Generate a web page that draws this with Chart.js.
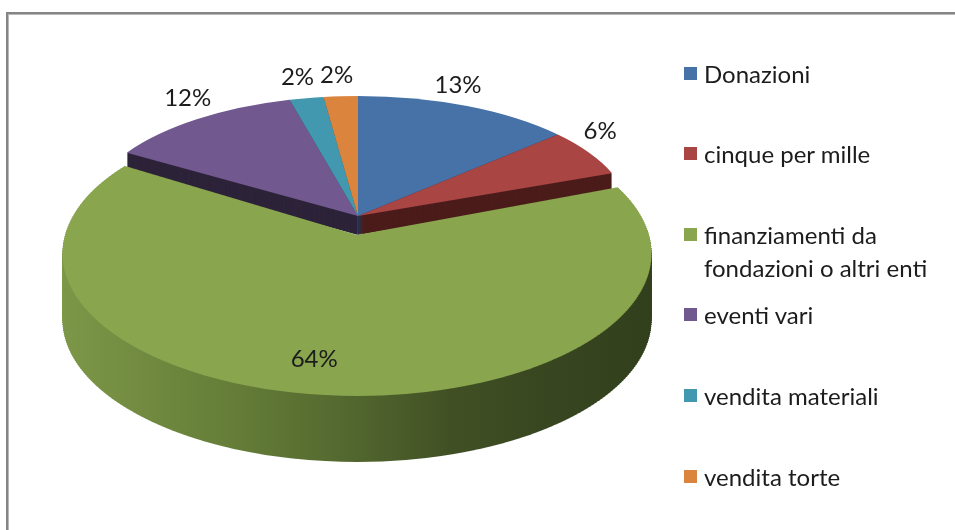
<!DOCTYPE html>
<html>
<head>
<meta charset="utf-8">
<script src="https://cdn.jsdelivr.net/npm/chart.js@4.4.1/dist/chart.umd.min.js"></script>
<style>
  html, body { margin:0; padding:0; background:#fff; overflow:hidden; width:955px; height:530px; }
  #frame { position:absolute; left:6px; top:12px; width:1200px; height:800px; border:2px solid #858585; box-shadow: inset 1px 1px 0 #b8b8b8; }
  #wrap { position:absolute; left:0; top:0; width:955px; height:530px; }
  #legend { position:absolute; left:0; top:0; font-family: Lato, "Open Sans", sans-serif; font-size:24px; color:#1c1c1c; }
  .item { position:absolute; left:704px; width:250px; line-height:33px; }
  .sw { position:absolute; left:684px; width:13px; height:13px; }
</style>
</head>
<body>
<div id="frame"></div>
<div id="wrap"><canvas id="c"></canvas></div>
<div id="legend"></div>
<script>
// ---- data ----
const categories = ['Donazioni', 'cinque per mille', 'finanziamenti da fondazioni o altri enti', 'eventi vari', 'vendita materiali', 'vendita torte'];
const shares = [13, 6, 64, 12, 2, 2];
const topColors = ['#4672a8', '#a94543', '#89a54e', '#71588f', '#4198af', '#db843d'];
const wallColors = ['#23395a', '#4b1c1a', '#556b2f', '#2d2339', '#1e4b57', '#6e421f'];

// ---- 3D look (styling) ----
const FRONT = 2; // slice pulled toward the viewer
const BACK_M = { cx: 358, y0: 216, A: 272, E: 120, g: 0, depth: 19, band: 2 };
const FRONT_M = { cx: 357, y0: 235, A: 292, E: 140, g: 0.13, depth: 66, band: 2 };
const SIDE_X0 = 62, SIDE_X1 = 652;
const sideStops = [[0, '#7d9748'], [0.32, '#627a36'], [0.49, '#52672f'], [0.66, '#415024'], [0.84, '#374520'], [1, '#323f1c']];

function paint(ctx, arc, m, k, fill, pr, yMin) {
  const R = arc.outerRadius, ax = arc.x, ay = arc.y;
  if (!R) return;
  const Y0 = m.y0 + k;
  const saved = arc.options;
  const mk = (a, e) => {
    let bg = fill;
    if (fill === 'grad') {
      const gr = ctx.createLinearGradient((SIDE_X0 - e) / a, 0, (SIDE_X1 - e) / a, 0);
      sideStops.forEach(s => gr.addColorStop(s[0], s[1]));
      bg = gr;
    }
    return Object.assign({}, saved, { backgroundColor: bg, borderWidth: 0 });
  };
  if (m.g === 0) {
    const a = m.A / R, d = m.E / R, e = m.cx - a * ax, f = Y0 - d * ay;
    ctx.save();
    ctx.setTransform(pr * a, 0, 0, pr * d, pr * e, pr * f);
    arc.options = mk(a, e); arc.draw(ctx); arc.options = saved;
    ctx.restore();
    return;
  }
  const vOf = y => { const d0 = Y0 - y; return d0 / (m.E - m.g * d0); };
  const yTop = Y0 - m.E / (1 + m.g), yBot = Y0 + m.E / (1 - m.g);
  let y1 = Math.floor(Math.max(yTop, yMin === undefined ? -1e9 : yMin)) - 1;
  for (; y1 < yBot + 1; y1 += m.band) {
    const y2 = y1 + m.band;
    const v1 = vOf(y1), v2 = vOf(y2), vm = (v1 + v2) / 2, s = (y2 - y1) / (v2 - v1);
    const a = m.A / (R * (1 + m.g * vm)), e = m.cx - a * ax, d = -s / R, f = y1 - v1 * s + s * ay / R;
    ctx.save();
    ctx.setTransform(pr, 0, 0, pr, 0, 0);
    ctx.beginPath(); ctx.rect(0, y1, 2000, m.band); ctx.clip();
    ctx.setTransform(pr * a, 0, 0, pr * d, pr * e, pr * f);
    arc.options = mk(a, e); arc.draw(ctx); arc.options = saved;
    ctx.restore();
  }
}

const pie3d = {
  id: 'pie3d',
  beforeDatasetsDraw(chart) {
    const ctx = chart.ctx, pr = chart.currentDevicePixelRatio || 1;
    const arcs = chart.getDatasetMeta(0).data;
    for (let k = BACK_M.depth; k >= 1; k--) {
      arcs.forEach((arc, i) => { if (i !== FRONT) paint(ctx, arc, BACK_M, k, wallColors[i], pr); });
    }
    arcs.forEach((arc, i) => { if (i !== FRONT) paint(ctx, arc, BACK_M, 0, topColors[i], pr); });
    for (let k = FRONT_M.depth; k >= 1; k--) paint(ctx, arcs[FRONT], FRONT_M, k, 'grad', pr, FRONT_M.y0 - 6);
    paint(ctx, arcs[FRONT], FRONT_M, 0, topColors[FRONT], pr);
    return false;
  },
  afterDraw(chart) {
    const ctx = chart.ctx;
    const arcs = chart.getDatasetMeta(0).data;
    ctx.save();
    ctx.font = '24px Lato, "Open Sans", sans-serif';
    ctx.fillStyle = '#1c1c1c';
    ctx.textAlign = 'center';
    ctx.textBaseline = 'middle';
    const labs = arcs.map((arc, i) => {
      const mid = (arc.startAngle + arc.endAngle) / 2;
      const u = Math.cos(mid), v = -Math.sin(mid);
      const text = shares[i] + '%';
      const w = ctx.measureText(text).width;
      let x, y;
      if (i === FRONT) {
        const r = 0.8, m = FRONT_M;
        x = m.cx + m.A * r * u / (1 + m.g * r * v) - 18;
        y = m.y0 - m.E * r * v / (1 + m.g * r * v);
      } else {
        // outside the rim, pushed clear of the slice when it lies on the side
        x = BACK_M.cx + BACK_M.A * u - 9 + 80 * Math.max(0, u - 0.6);
        y = BACK_M.y0 - BACK_M.E * v - 21;
      }
      return { text, x, y, w, i };
    });
    // simple collision avoidance between neighbouring outside labels
    for (let a = 0; a < labs.length; a++) {
      for (let b = a + 1; b < labs.length; b++) {
        const A = labs[a], B = labs[b];
        if (A.i === FRONT || B.i === FRONT) continue;
        if (Math.abs(A.y - B.y) > 20) continue;
        const need = (A.w + B.w) / 2 + 6;
        const dx = Math.abs(A.x - B.x);
        if (dx < need) { const R = A.x > B.x ? A : B; R.x += need - dx; }
      }
    }
    labs.forEach(l => ctx.fillText(l.text, l.x, l.y));
    ctx.restore();
  }
};

new Chart(document.getElementById('c'), {
  type: 'pie',
  data: { labels: categories, datasets: [{ data: shares, backgroundColor: topColors, borderWidth: 0 }] },
  options: {
    responsive: true, maintainAspectRatio: false, animation: false,
    layout: { padding: 0 },
    plugins: { legend: { display: false }, tooltip: { enabled: false } }
  },
  plugins: [pie3d]
});

// ---- legend (HTML, from the same arrays) ----
const legend = document.getElementById('legend');
const firstY = 73, pitch = 80.6;
categories.forEach((name, i) => {
  const yc = firstY + i * pitch;
  const sw = document.createElement('div');
  sw.className = 'sw'; sw.style.top = (yc - 6.5) + 'px'; sw.style.background = topColors[i];
  const it = document.createElement('div');
  it.className = 'item'; it.style.top = (yc - 16.5) + 'px'; it.textContent = name;
  legend.appendChild(sw); legend.appendChild(it);
});
</script>
</body>
</html>
